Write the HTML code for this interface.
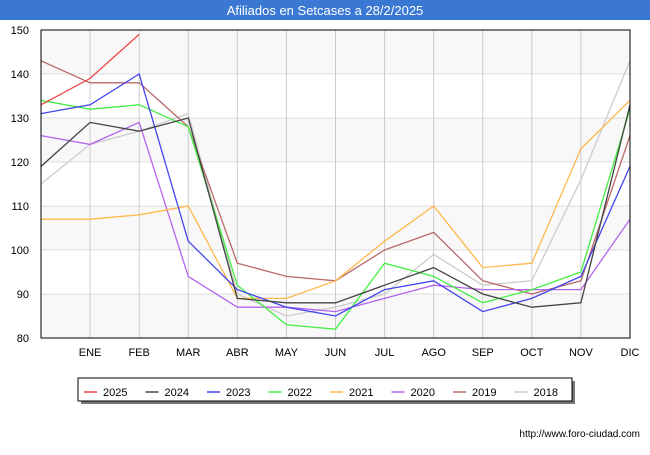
<!DOCTYPE html>
<html><head><meta charset="utf-8"><style>
body{margin:0;width:650px;height:450px;background:#fff;font-family:"Liberation Sans",sans-serif;overflow:hidden}
</style></head><body>
<svg width="650" height="450" id="svg" font-family="Liberation Sans, sans-serif">
<rect x="0" y="0" width="650" height="20" fill="#3a78d4"/>
<text x="325" y="15" text-anchor="middle" font-size="13" fill="#fff">Afiliados en Setcases a 28/2/2025</text>
<g id="grid"></g><g id="lines"></g>
<rect x="41" y="30" width="589" height="308" fill="none" stroke="#000" stroke-width="1"/>
<g id="axes"></g>
<rect x="81" y="381" width="494" height="23" fill="#777"/>
<rect x="78" y="378" width="494" height="23" fill="#fff" stroke="#000"/>
<g id="legend"></g>
<text x="640" y="437" text-anchor="end" font-size="10" fill="#000">http://www.foro-ciudad.com</text>
</svg>
<script>
const months=["","ENE","FEB","MAR","ABR","MAY","JUN","JUL","AGO","SEP","OCT","NOV","DIC"];
const yTicks=[80,90,100,110,120,130,140,150];
const seriesNames=["2025","2024","2023","2022","2021","2020","2019","2018"];
const seriesColors=["#ee4444","#444444","#4444ee","#44ee44","#ffb84d","#b566ee","#b86a6a","#cccccc"];
const s2025=[133,139,149];
const s2024=[119,129,127,130,89,88,88,92,96,90,87,88,133];
const s2023=[131,133,140,102,91,87,85,91,93,86,89,94,119];
const s2022=[134,132,133,128,92,83,82,97,94,88,91,95,132];
const s2021=[107,107,108,110,89,89,93,102,110,96,97,123,134];
const s2020=[126,124,129,94,87,87,86,89,92,91,91,91,107];
const s2019=[143,138,138,128,97,94,93,100,104,93,90,93,126];
const s2018=[115,124,127,131,90,85,87,90,99,92,93,116,143];
const allSeries=[s2025,s2024,s2023,s2022,s2021,s2020,s2019,s2018];
const NS="http://www.w3.org/2000/svg";
const X0=41,X1=630,Y0=338,Y1=30;
function xs(i){return X0+i*(X1-X0)/(months.length-1);}
function ys(v){return Y0-(v-80)*(Y0-Y1)/70;}
function mk(t,a,p){const e=document.createElementNS(NS,t);for(const k in a)e.setAttribute(k,a[k]);p.appendChild(e);return e;}
const grid=document.getElementById('grid'),axes=document.getElementById('axes'),lines=document.getElementById('lines'),leg=document.getElementById('legend');
for(let k=0;k<yTicks.length-1;k+=2){
 const r=mk('rect',{x:X0,y:ys(yTicks[k+1]),width:X1-X0,height:ys(yTicks[k])-ys(yTicks[k+1]),fill:'#f8f8f8'},grid);
 
 
}
yTicks.forEach(v=>{
 const l=mk('line',{x1:X0,x2:X1,y1:ys(v),y2:ys(v),stroke:'#ddd'},grid);
 
 
 const t=mk('text',{x:X0-12,y:ys(v)+4,'text-anchor':'end','font-size':11},axes);
 t.textContent=v;
 
 
});
months.forEach((m,i)=>{
 if(i===0)return;
 const l=mk('line',{x1:xs(i),x2:xs(i),y1:Y1,y2:Y0,stroke:'#ccc'},grid);
 
 
 const t=mk('text',{x:xs(i),y:356,'text-anchor':'middle','font-size':11},axes);
 t.textContent=m;
 
 
});
for(let s=allSeries.length-1;s>=0;s--){
 const pts=allSeries[s].map((v,i)=>xs(i)+','+ys(v)).join(' ');
 const p=mk('polyline',{points:pts,fill:'none',stroke:seriesColors[s],'stroke-width':1.3},lines);
 
 
}
seriesNames.forEach((n,i)=>{
 const x=84+i*61.5;
 const g=mk('g',{},leg);
 
 
 mk('line',{x1:x,x2:x+13,y1:392,y2:392,stroke:seriesColors[i],'stroke-width':1.5},g);
 const t=mk('text',{x:x+19,y:396,'font-size':11},g);
 t.textContent=n;
});
</script>
</body></html>
